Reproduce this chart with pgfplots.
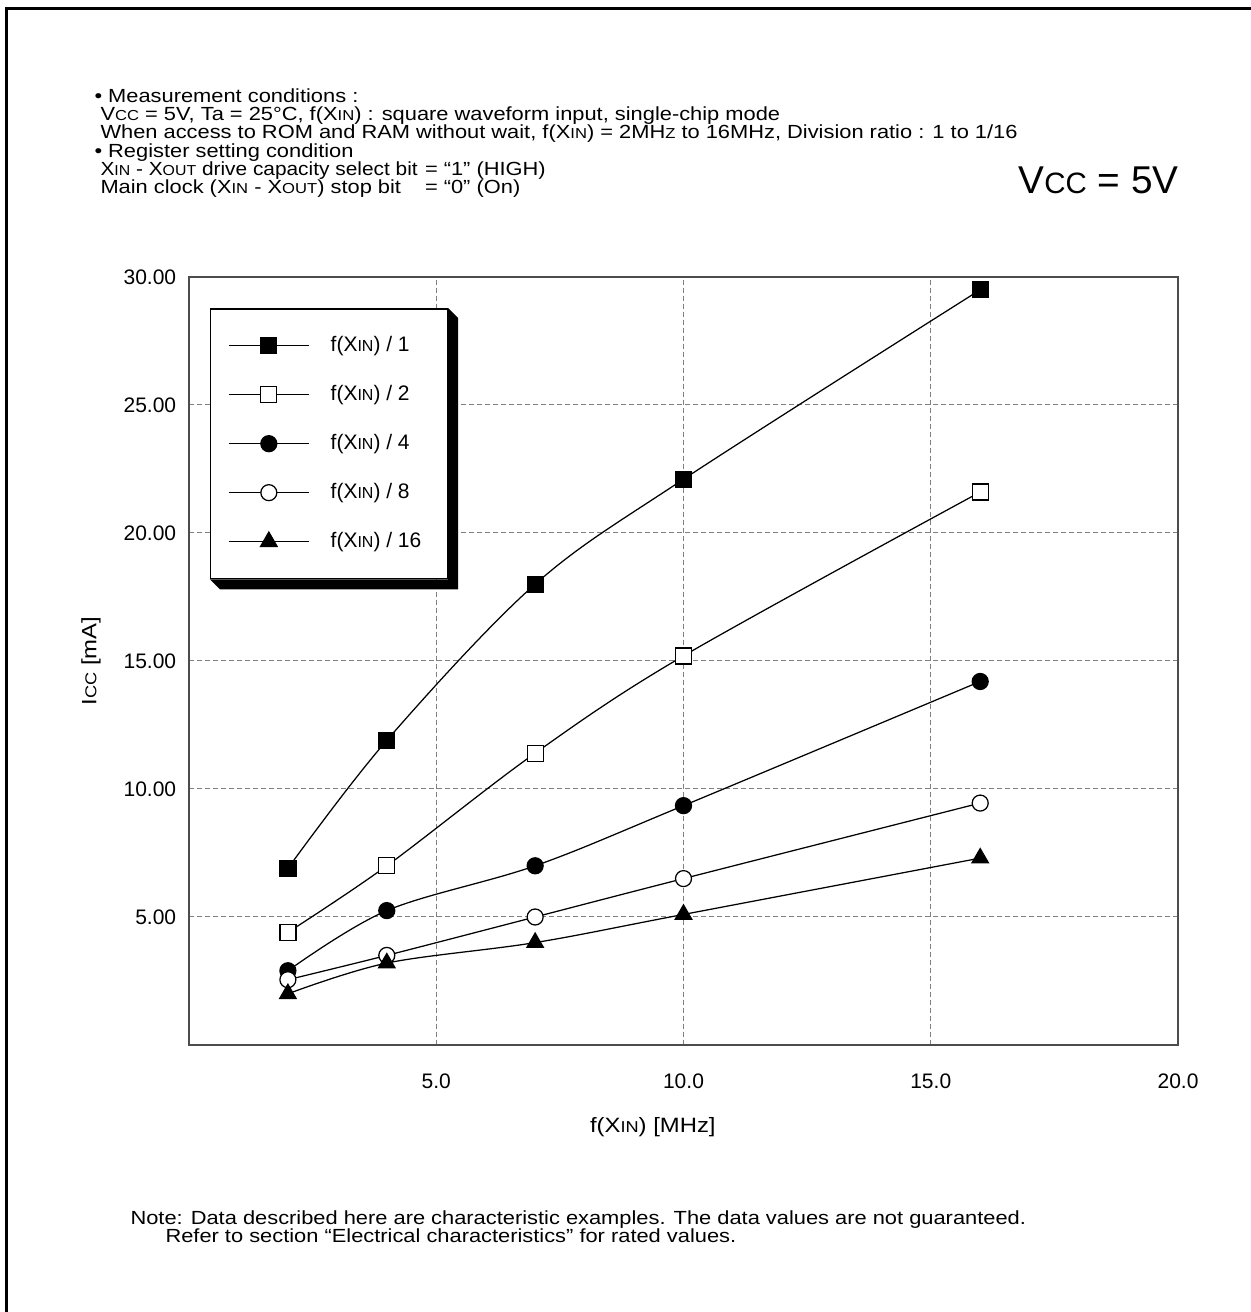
\documentclass[border=0pt]{standalone}
\usepackage{fontspec}
\setmainfont{Liberation Sans}
\newfontfamily\wide[FakeStretch=1.15]{Liberation Sans}
\usepackage{graphicx}
\usepackage{pgfplots}
\pgfplotsset{compat=1.18}
% small capitals as in the data sheet (Vcc, XIN, ...)
\newcommand\sm[1]{\scalebox{0.76}{#1}}

\begin{document}
\begin{tikzpicture}[font=\fontsize{8.4}{9}\selectfont]
\useasboundingbox (0,0) rectangle (500.4pt,524.8pt);
\draw[line width=1.2pt] (2.4pt,0) -- (2.4pt,521.2pt) -- (500.4pt,521.2pt);

% header and note
\begin{scope}[every node/.style={anchor=base west,inner sep=0pt,font=\wide\fontsize{7.6}{9}\selectfont}]
\node at (37.6pt,483.8pt) {\textbullet\ Measurement conditions :};
\node at (40pt,476.6pt) {V\sm{CC} = 5V, Ta = 25°C, f(X\sm{IN}) : square waveform input, single-chip mode};
\node at (40pt,469.4pt) {When access to ROM and RAM without wait, f(X\sm{IN}) = 2MH\sm{Z} to 16MHz, Division ratio : 1 to 1/16};
\node at (37.6pt,461.8pt) {\textbullet\ Register setting condition};
\node at (40pt,454.6pt) {\scalebox{0.955}[1]{X\sm{IN} - X\sm{OUT} drive capacity select bit}};
\node at (169.8pt,454.6pt) {= “1” (HIGH)};
\node at (40pt,447.4pt) {Main clock (X\sm{IN} - X\sm{OUT}) stop bit};
\node at (169.8pt,447.4pt) {= “0” (On)};
\node at (52pt,35pt) {Note: Data described here are characteristic examples. The data values are not guaranteed.};
\node at (66pt,27.8pt) {Refer to section “Electrical characteristics” for rated values.};
\node[font=\fontsize{15.5}{18}\selectfont] at (407.2pt,447.2pt) {V\sm{CC} = 5V};
\end{scope}

\begin{axis}[
  at={(75.6pt,106.8pt)}, anchor=south west,
  scale only axis, width=395.6pt, height=307.2pt,
  xmin=0, xmax=20, ymin=0, ymax=30,
  xtick={5,10,15,20}, ytick={5,10,...,30},
  major tick length=0pt,
  grid=major,
  major grid style={gray, line width=0.4pt, dash pattern=on 1.8pt off 1.4pt},
  axis line style={gray!60!black, line width=0.6pt},
  /pgf/number format/assume math mode=true,
  xticklabel style={/pgf/number format/fixed, /pgf/number format/fixed zerofill, /pgf/number format/precision=1, yshift=-8pt},
  yticklabel style={/pgf/number format/fixed, /pgf/number format/fixed zerofill, /pgf/number format/precision=2, xshift=-1.6pt},
  xlabel={f(X\sm{IN}) [MHz]},
  ylabel={I\sm{CC} [mA]},
  label style={font=\wide\fontsize{8.3}{9}\selectfont},
  xlabel style={at={(axis description cs:0.469,-0.107)}, anchor=center},
  ylabel style={at={(axis description cs:-0.099,0.5)}, anchor=center},
  legend cell align=left,
  legend style={name=leg, at={(axis description cs:0.0212,0.9596)}, anchor=north west,
    draw=black, line width=0.6pt, fill=white,
    inner xsep=7pt, inner ysep=10pt, row sep=10pt, column sep=7.5pt,
    nodes={inner sep=1pt}},
  legend image code/.code={\draw[mark repeat=2,mark phase=2,#1] plot coordinates {(0pt,0pt) (16pt,0pt) (32pt,0pt)};},
]
\addplot[black, line width=0.5pt, smooth, tension=0.55, mark=square*, mark options={solid, fill=black, draw=black}, mark size=3.2pt] coordinates {
  (2,6.9) (4,11.9) (7,18.0) (10,22.1) (16,29.5)};
\addlegendentry{f(X\sm{IN}) / 1}
\addplot[black, line width=0.5pt, smooth, tension=0.55, mark=square*, mark options={solid, fill=white, draw=black}, mark size=3.2pt] coordinates {
  (2,4.4) (4,7.0) (7,11.4) (10,15.2) (16,21.6)};
\addlegendentry{f(X\sm{IN}) / 2}
\addplot[black, line width=0.5pt, smooth, tension=0.55, mark=*, mark options={solid, fill=black, draw=black}, mark size=3.2pt] coordinates {
  (2,2.9) (4,5.25) (7,7.0) (10,9.35) (16,14.2)};
\addlegendentry{f(X\sm{IN}) / 4}
\addplot[black, line width=0.5pt, smooth, tension=0.55, mark=*, mark options={solid, fill=white, draw=black}, mark size=3.2pt] coordinates {
  (2,2.55) (4,3.5) (7,5.0) (10,6.5) (16,9.45)};
\addlegendentry{f(X\sm{IN}) / 8}
\addplot[black, line width=0.5pt, smooth, tension=0.55, mark=triangle*, mark options={solid, fill=black, draw=black}, mark size=3.8pt] coordinates {
  (2,2.0) (4,3.2) (7,4.0) (10,5.1) (16,7.3)};
\addlegendentry{f(X\sm{IN}) / 16\hspace*{2.4pt}}
\end{axis}
% raised-box shadow of the legend
\fill[black] (leg.north east) -- ++(4pt,-4pt) -- ([shift={(4pt,-4pt)}]leg.south east)
  -- ([shift={(4pt,-4pt)}]leg.south west) -- (leg.south west) -- (leg.south east) -- cycle;
\end{tikzpicture}
\end{document}
